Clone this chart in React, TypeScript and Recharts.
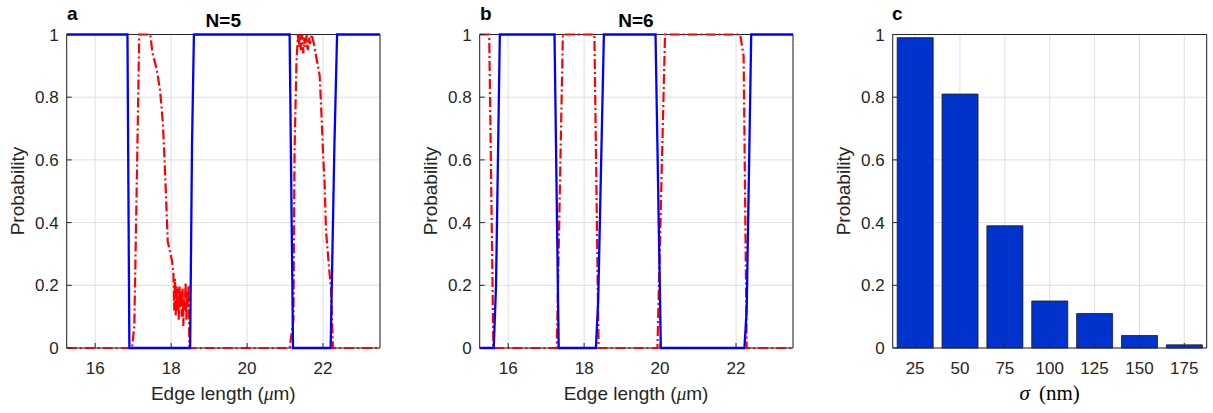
import React from "react";
import { LineChart, Line, BarChart, Bar, XAxis, YAxis, CartesianGrid } from "recharts";

// edge length (um) / probability pairs
const edgeTicks = [16, 18, 20, 22];
const probTicks = [0, 0.2, 0.4, 0.6, 0.8, 1];
const edgeDomain: [number, number] = [15.25, 23.5];

const n5Blue: [number, number][] = [
  [15.25, 1], [16.85, 1], [16.9, 0], [18.5, 0], [18.55, 0.65], [18.6, 1],
  [21.12, 1], [21.21, 0], [22.2, 0], [22.3, 0.65], [22.37, 1], [23.5, 1],
];

const n5Red: [number, number][] = [
  [15.25, 0], [16.97, 0], [17.03, 0.07], [17.11, 0.63], [17.16, 1], [17.45, 1],
  [17.51, 0.94], [17.62, 0.89], [17.71, 0.82], [17.78, 0.72], [17.82, 0.62],
  [17.87, 0.47], [17.91, 0.34], [18.02, 0.28], [18.06, 0.24],
  [18.08, 0.12], [18.1, 0.22], [18.12, 0.1], [18.14, 0.2], [18.16, 0.12],
  [18.18, 0.19], [18.2, 0.09], [18.22, 0.2], [18.24, 0.13], [18.26, 0.18],
  [18.28, 0.1], [18.3, 0.19], [18.32, 0.07], [18.34, 0.16], [18.36, 0.12],
  [18.38, 0.21], [18.4, 0.09], [18.42, 0.18], [18.44, 0.13], [18.46, 0.2],
  [18.48, 0], [21.12, 0], [21.22, 0.09], [21.25, 0.63], [21.3, 0.91], [21.34, 1],
  [21.36, 0.96], [21.39, 1], [21.42, 0.95], [21.45, 1], [21.48, 0.94], [21.51, 0.99],
  [21.54, 0.96], [21.57, 1], [21.6, 0.95], [21.63, 0.99], [21.66, 0.97], [21.7, 1],
  [21.76, 0.97], [21.82, 0.93], [21.91, 0.87], [21.95, 0.77], [22.0, 0.62],
  [22.04, 0.53], [22.08, 0.37], [22.17, 0.24], [22.21, 0.19], [22.26, 0], [23.5, 0],
];

const n6Blue: [number, number][] = [
  [15.25, 0], [15.62, 0], [15.68, 0.2], [15.78, 1], [17.22, 1], [17.33, 0],
  [18.31, 0], [18.37, 0.15], [18.52, 1], [19.88, 1], [20.02, 0],
  [22.22, 0], [22.28, 0.12], [22.4, 1], [23.5, 1],
];

const n6Red: [number, number][] = [
  [15.25, 1], [15.5, 1], [15.61, 0], [17.28, 0], [17.44, 1], [18.27, 1], [18.38, 0],
  [19.93, 0], [20.13, 1], [22.11, 1], [22.2, 0.93], [22.28, 0], [23.5, 0],
];

const sigmaLabels = ["25", "50", "75", "100", "125", "150", "175"];
const sigmaProb = [0.99, 0.81, 0.39, 0.15, 0.11, 0.04, 0.01];

const INK = "#262626";
const GRID = "#dfdfdf";
const FONT = "'Liberation Sans', Arial, Helvetica, sans-serif";
const SERIF = "'Liberation Serif', 'DejaVu Serif', serif";

const toPts = (arr: [number, number][]) => arr.map(([x, y]) => ({ x, y }));

function BottomTick(p: any) {
  return (
    <g>
      <line x1={p.x} x2={p.x} y1={p.y} y2={p.y - 5} stroke={INK} />
      <text x={p.x} y={p.y + 26} textAnchor="middle" fontSize={17} fontFamily={FONT} fill={INK}>
        {p.payload.value}
      </text>
    </g>
  );
}

function LeftTick(p: any) {
  return (
    <g>
      <line x1={p.x} x2={p.x + 5} y1={p.y} y2={p.y} stroke={INK} />
      <text x={p.x - 8} y={p.y + 6} textAnchor="end" fontSize={17} fontFamily={FONT} fill={INK}>
        {String(p.payload.value)}
      </text>
    </g>
  );
}

const TopTick = (p: any) => <line x1={p.x} x2={p.x} y1={p.y} y2={p.y + 5} stroke={INK} />;
const RightTick = (p: any) => <line x1={p.x} x2={p.x - 5} y1={p.y} y2={p.y} stroke={INK} />;

// the axes box is drawn as a grid layer so the series sit on top of it
const Frame = () => (
  <CartesianGrid
    stroke={INK}
    horizontalCoordinatesGenerator={({ offset }: any) => [offset.top, offset.top + offset.height]}
    verticalCoordinatesGenerator={({ offset }: any) => [offset.left, offset.left + offset.width]}
  />
);

const margin = { top: 24.5, right: 10, bottom: 25, left: 6.7 };

function EdgePanel({ red, blue }: { red: [number, number][]; blue: [number, number][] }) {
  return (
    <LineChart width={400} height={413} margin={margin}>
      <CartesianGrid stroke={GRID} />
      {Frame()}
      <XAxis
        type="number" dataKey="x" domain={edgeDomain} ticks={edgeTicks}
        height={40} tickSize={0} tickMargin={0} interval={0}
        axisLine={false} tickLine={false} tick={(p: any) => <BottomTick {...p} />}
      />
      <XAxis
        xAxisId="top" orientation="top" type="number" dataKey="x" domain={edgeDomain} ticks={edgeTicks}
        height={10} tickSize={0} tickMargin={0} interval={0}
        axisLine={false} tickLine={false} tick={(p: any) => <TopTick {...p} />}
      />
      <YAxis
        type="number" domain={[0, 1]} ticks={probTicks} width={60} tickSize={0} tickMargin={0} interval={0}
        axisLine={false} tickLine={false} tick={(p: any) => <LeftTick {...p} />}
      />
      <YAxis
        yAxisId="r" orientation="right" type="number" domain={[0, 1]} ticks={probTicks} width={10}
        tickSize={0} tickMargin={0} interval={0}
        axisLine={false} tickLine={false} tick={(p: any) => <RightTick {...p} />}
      />
      <Line
        data={toPts(red)} dataKey="y" type="linear" stroke="#ff0000" strokeWidth={2.2}
        strokeDasharray="10 3 2 3" dot={false} isAnimationActive={false}
      />
      <Line
        data={toPts(blue)} dataKey="y" type="linear" stroke="#0000ff" strokeWidth={2.3}
        dot={false} isAnimationActive={false}
      />
    </LineChart>
  );
}

const barData = sigmaLabels.map((s, i) => ({ sigma: s, p: sigmaProb[i] }));

function SigmaPanel() {
  return (
    <BarChart width={383} height={413} data={barData} margin={{ top: 24.5, right: 1.3, bottom: 25, left: 2.7 }} barCategoryGap="10%">
      <CartesianGrid stroke={GRID} />
      {Frame()}
      <XAxis
        dataKey="sigma" height={40} tickSize={0} tickMargin={0} interval={0}
        axisLine={false} tickLine={false} tick={(p: any) => <BottomTick {...p} />}
      />
      <XAxis
        xAxisId="top" orientation="top" type="number" domain={[12.5, 187.5]}
        ticks={[25, 50, 75, 100, 125, 150, 175]} allowDataOverflow height={10} tickSize={0}
        tickMargin={0} interval={0} axisLine={false} tickLine={false}
        tick={(p: any) => <TopTick {...p} />}
      />
      <YAxis
        type="number" domain={[0, 1]} ticks={probTicks} width={60} tickSize={0} tickMargin={0} interval={0}
        axisLine={false} tickLine={false} tick={(p: any) => <LeftTick {...p} />}
      />
      <YAxis
        yAxisId="r" orientation="right" type="number" domain={[0, 1]} ticks={probTicks} width={5}
        tickSize={0} tickMargin={0} interval={0}
        axisLine={false} tickLine={false} tick={(p: any) => <RightTick {...p} />}
      />
      <Bar dataKey="p" fill="#0032cc" stroke="#1a1a1a" strokeWidth={0.8} isAnimationActive={false} />
    </BarChart>
  );
}

export default function App() {
  const ylab = (x: number) => (
    <text
      x={x} y={191} transform={`rotate(-90 ${x} 191)`} textAnchor="middle"
      fontSize={19} fontFamily={FONT} fill={INK}
    >
      Probability
    </text>
  );
  const xlab = (cx: number) => (
    <text x={cx} y={400} textAnchor="middle" fontSize={19} fontFamily={FONT} fill={INK}>
      Edge length (<tspan fontFamily={SERIF} fontStyle="italic">μ</tspan>m)
    </text>
  );
  return (
    <div style={{ position: "absolute", left: 0, top: 0, width: 1213, height: 413, background: "#fff" }}>
      <div style={{ position: "absolute", left: 0, top: 0 }}>
        <EdgePanel red={n5Red} blue={n5Blue} />
      </div>
      <div style={{ position: "absolute", left: 412.6, top: 0 }}>
        <EdgePanel red={n6Red} blue={n6Blue} />
      </div>
      <div style={{ position: "absolute", left: 830, top: 0 }}>
        <SigmaPanel />
      </div>
      <svg width={1213} height={413} style={{ position: "absolute", left: 0, top: 0, pointerEvents: "none" }}>
        <text x={67} y={20} fontSize={19} fontWeight="bold" fontFamily={FONT} fill="#000">a</text>
        <text x={223.3} y={27} textAnchor="middle" fontSize={19} fontWeight="bold" fontFamily={FONT} fill="#000">N=5</text>
        <text x={480} y={20} fontSize={19} fontWeight="bold" fontFamily={FONT} fill="#000">b</text>
        <text x={636} y={27} textAnchor="middle" fontSize={19} fontWeight="bold" fontFamily={FONT} fill="#000">N=6</text>
        <text x={892} y={20} fontSize={19} fontWeight="bold" fontFamily={FONT} fill="#000">c</text>
        {ylab(24)}
        {ylab(436.6)}
        {ylab(850)}
        {xlab(223.3)}
        {xlab(636)}
        <text x={1049.7} y={400} textAnchor="middle" fontSize={21} fontFamily={SERIF} fill="#000">
          <tspan fontStyle="italic">σ</tspan>
          <tspan dx={9}>(nm)</tspan>
        </text>
      </svg>
    </div>
  );
}
